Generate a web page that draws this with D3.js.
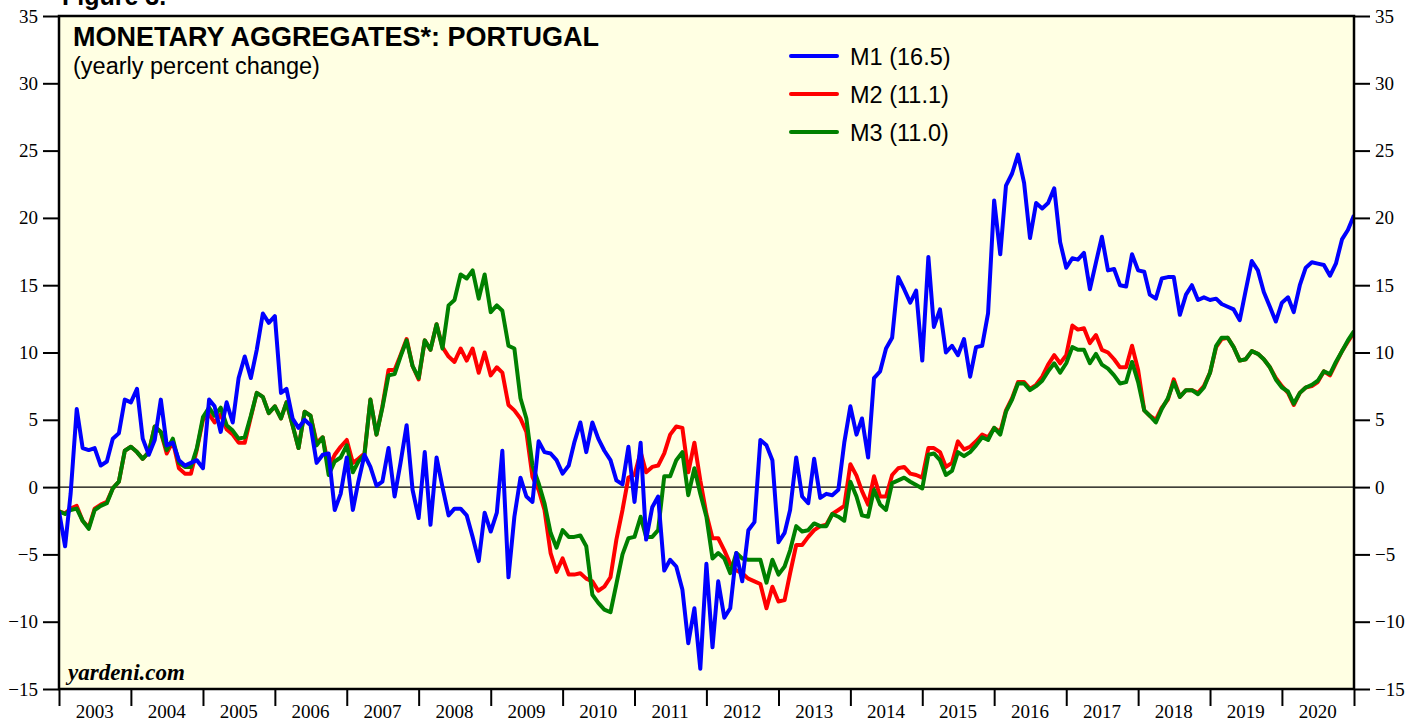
<!DOCTYPE html>
<html>
<head>
<meta charset="utf-8">
<script src="https://cdn.jsdelivr.net/npm/d3@7"></script>
<style>
  body { margin: 0; background: #fff; }
  .ax text { font-family: "Liberation Serif", "Times New Roman", serif; font-size: 19px; fill: #000; }
  .ax path { display: none; }
  .ax line { stroke: #000; stroke-width: 2; }
</style>
</head>
<body>
<div id="chart"></div>
<script>
// monthly yearly % change, Jan 2003 .. Jan 2021
var m1 = [
  -1.8, -4.4, -0.5, 5.8, 2.9, 2.75, 2.9, 1.6, 1.9, 3.6, 4.0, 6.5,
  6.3, 7.3, 3.6, 2.4, 3.5, 6.5, 3.1, 3.3, 2.0, 1.6, 1.8, 2.0,
  1.4, 6.5, 6.0, 4.1, 6.3, 4.8, 8.1, 9.7, 8.1, 10.2, 12.9, 12.2,
  12.7, 7.0, 7.3, 5.1, 4.4, 5.0, 4.6, 1.8, 2.4, 2.5, -1.7, -0.5,
  2.2, -1.7, 0.4, 2.4, 1.5, 0.1, 0.4, 2.9, -0.7, 1.8, 4.6, -0.2,
  -2.3, 2.6, -2.8, 2.2, 0.0, -2.1, -1.6, -1.6, -2.1, -3.7, -5.5, -1.9,
  -3.3, -1.9, 2.7, -6.7, -2.2, 0.7, -0.7, -1.1, 3.4, 2.6, 2.5, 2.0,
  1.0, 1.6, 3.3, 4.8, 2.6, 4.8, 3.6, 2.7, 2.0, 0.5, 0.2, 3.0,
  -1.1, 3.3, -3.9, -1.5, -0.7, -6.2, -5.4, -5.9, -7.6, -11.6, -9.0, -13.5,
  -5.7, -11.9, -7.0, -9.7, -9.0, -4.9, -7.0, -3.2, -2.6, 3.5, 3.1, 2.0,
  -4.1, -3.4, -1.7, 2.2, -0.7, -1.2, 2.1, -0.8, -0.5, -0.6, -0.2, 3.3,
  6.0, 3.9, 5.1, 2.2, 8.1, 8.6, 10.3, 11.1, 15.6, 14.7, 13.7, 14.6,
  9.4, 17.1, 11.9, 13.2, 10.0, 10.5, 9.8, 11.0, 8.2, 10.4, 10.5, 12.9,
  21.3, 17.3, 22.4, 23.3, 24.7, 22.6, 18.5, 21.1, 20.7, 21.1, 22.2, 18.2,
  16.3, 17.0, 16.9, 17.4, 14.7, 16.7, 18.6, 16.1, 16.2, 15.0, 14.9, 17.3,
  16.1, 16.0, 14.3, 14.0, 15.5, 15.6, 15.6, 12.8, 14.3, 15.0, 13.9, 14.1,
  13.9, 14.0, 13.6, 13.4, 13.2, 12.4, 14.6, 16.8, 16.1, 14.5, 13.4, 12.3,
  13.7, 14.1, 13.0, 15.0, 16.3, 16.7, 16.6, 16.5, 15.7, 16.6, 18.4, 19.1,
  20.2
];
var m2 = [
  -1.8, -1.95, -1.6, -1.4, -2.5, -3.0, -1.6, -1.3, -1.1, -0.1, 0.4, 2.7,
  3.0, 2.6, 2.1, 2.6, 4.5, 4.1, 2.5, 3.4, 1.4, 1.0, 1.0, 2.8,
  5.0, 5.4, 4.8, 5.4, 4.3, 3.9, 3.3, 3.3, 5.2, 7.0, 6.7, 5.5,
  6.0, 5.1, 6.3, 4.6, 2.9, 5.6, 5.3, 3.3, 3.7, 1.5, 2.4, 3.0,
  3.5, 1.8, 2.1, 2.5, 6.5, 3.9, 6.0, 8.7, 8.7, 9.8, 11.0, 9.0,
  8.0, 10.9, 10.2, 12.1, 10.4, 9.7, 9.3, 10.3, 9.4, 10.3, 8.5, 10.0,
  8.3, 8.9, 8.5, 6.1, 5.7, 5.1, 4.1, 0.75, -0.2, -1.7, -4.9, -6.3,
  -5.3, -6.5, -6.5, -6.4, -6.8, -7.0, -7.7, -7.4, -6.7, -3.9, -1.7, 0.7,
  0.9, 2.6, 1.1, 1.5, 1.6, 2.5, 3.9, 4.5, 4.4, 1.1, 3.3, 0.5,
  -2.0, -3.8, -3.8, -4.7, -5.7, -6.2, -6.4, -6.8, -7.0, -7.2, -9.0, -7.4,
  -8.5, -8.4, -6.4, -4.3, -4.3, -3.7, -3.2, -2.9, -2.8, -2.0, -1.7, -1.4,
  1.7, 0.85, -0.3, -1.3, 0.8, -0.7, -0.7, 0.9, 1.4, 1.5, 1.0, 0.9,
  0.7, 2.9, 2.9, 2.6, 1.5, 1.8, 3.4, 2.8, 3.0, 3.4, 3.9, 3.7,
  4.4, 4.1, 5.7, 6.6, 7.8, 7.8, 7.3, 7.6, 8.2, 9.1, 9.8, 9.2,
  9.8, 12.0, 11.7, 11.8, 10.7, 11.3, 10.2, 10.0, 9.5, 8.9, 8.9, 10.5,
  8.7, 5.7, 5.3, 5.0, 5.9, 6.5, 8.0, 6.7, 7.2, 7.2, 7.0, 7.5,
  8.5, 10.4, 11.0, 11.1, 10.4, 9.4, 9.5, 10.1, 9.9, 9.5, 8.9, 8.1,
  7.5, 7.0, 6.1, 7.0, 7.4, 7.5, 7.8, 8.6, 8.3, 9.2, 10.1, 10.8,
  11.5
];
var m3 = [
  -1.8, -2.0, -1.7, -1.6, -2.5, -3.1, -1.7, -1.4, -1.2, -0.1, 0.4, 2.7,
  3.0, 2.6, 2.1, 2.6, 4.5, 4.1, 2.75, 3.6, 1.8, 1.5, 1.5, 2.9,
  5.2, 5.9, 5.3, 5.9, 4.6, 4.2, 3.6, 3.7, 5.3, 7.0, 6.7, 5.5,
  6.0, 5.1, 6.3, 4.6, 2.9, 5.6, 5.3, 3.1, 3.7, 0.9, 1.9, 2.2,
  3.1, 1.1, 1.9, 2.4, 6.5, 3.9, 5.9, 8.3, 8.4, 9.7, 10.9, 9.0,
  8.1, 10.9, 10.2, 12.1, 10.3, 13.5, 13.9, 15.8, 15.5, 16.1, 14.0, 15.8,
  13.0, 13.5, 13.1, 10.5, 10.3, 6.6, 5.1, 1.6, 0.3, -1.2, -3.4, -4.5,
  -3.2, -3.7, -3.7, -3.6, -4.4, -8.0, -8.6, -9.1, -9.3, -7.2, -5.0, -3.8,
  -3.7, -2.2, -3.7, -3.7, -3.2, 0.8, 0.8, 2.0, 2.6, -0.6, 1.4, -0.5,
  -2.2, -5.3, -4.9, -5.3, -6.4, -4.9, -5.3, -5.4, -5.4, -5.4, -7.1, -5.4,
  -6.5, -5.9, -4.7, -2.9, -3.3, -3.2, -2.7, -2.9, -2.9, -2.0, -2.2, -2.5,
  0.4, -0.7, -2.1, -2.2, -0.2, -1.3, -1.7, 0.3, 0.5, 0.7, 0.4, 0.15,
  -0.1, 2.4, 2.5, 2.0, 0.9, 1.2, 2.6, 2.3, 2.6, 3.1, 3.7, 3.5,
  4.4, 3.9, 5.6, 6.5, 7.7, 7.7, 7.2, 7.5, 7.9, 8.6, 9.2, 8.5,
  9.2, 10.4, 10.2, 10.2, 9.2, 9.9, 9.1, 8.8, 8.3, 7.7, 7.8, 9.3,
  7.8, 5.7, 5.3, 4.8, 5.8, 6.6, 7.8, 6.7, 7.2, 7.2, 6.9, 7.4,
  8.5, 10.5, 11.1, 11.1, 10.4, 9.4, 9.5, 10.1, 9.9, 9.5, 8.9, 8.0,
  7.4, 7.1, 6.2, 7.0, 7.4, 7.6, 7.9, 8.6, 8.4, 9.3, 10.1, 10.9,
  11.6
];
var years = d3.range(2003, 2021);
var yTicks = d3.range(-15, 36, 5);
var seriesNames = ["M1 (16.5)", "M2 (11.1)", "M3 (11.0)"];
var seriesColors = ["#0000ff", "#ff0000", "#008000"];

var width = 1419, height = 719;
var margin = {top: 16, left: 59, right: 65, bottom: 30};

var svg = d3.select("#chart").append("svg")
  .attr("width", width)
  .attr("height", height);

var x = d3.scaleTime()
  .domain([new Date(2003, 0, 1), new Date(2021, 0, 1)])
  .range([margin.left, width - margin.right]);
var y = d3.scaleLinear()
  .domain([-15, 35])
  .range([height - margin.bottom, margin.top]);

// figure caption, cut off by the top edge as in the source
svg.append("text")
  .attr("x", 62).attr("y", 5)
  .style("font-family", "Liberation Sans, Arial, sans-serif")
  .style("font-weight", "bold").style("font-size", "25px")
  .text("Figure 3.");

svg.append("rect")
  .attr("x", x.range()[0]).attr("y", y.range()[1])
  .attr("width", x.range()[1] - x.range()[0])
  .attr("height", y.range()[0] - y.range()[1])
  .attr("fill", "#ffffe3");

// zero line
svg.append("line")
  .attr("x1", x.range()[0]).attr("x2", x.range()[1])
  .attr("y1", y(0)).attr("y2", y(0))
  .attr("stroke", "#000").attr("stroke-width", 1.2);

var line = d3.line()
  .x(function(d, i) { return x(new Date(2003, i, 1)); })
  .y(function(d) { return y(d); });

svg.append("clipPath").attr("id", "clip").append("rect")
  .attr("x", x.range()[0]).attr("y", y.range()[1])
  .attr("width", x.range()[1] - x.range()[0])
  .attr("height", y.range()[0] - y.range()[1]);

var plot = svg.append("g").attr("clip-path", "url(#clip)");
[m2, m3, m1].forEach(function(s) {
  var k = [m1, m2, m3].indexOf(s);
  plot.append("path")
    .datum(s)
    .attr("fill", "none")
    .attr("stroke", seriesColors[k])
    .attr("stroke-width", 4)
    .attr("stroke-linejoin", "round")
    .attr("d", line);
});

// frame
svg.append("rect")
  .attr("x", x.range()[0]).attr("y", y.range()[1])
  .attr("width", x.range()[1] - x.range()[0])
  .attr("height", y.range()[0] - y.range()[1])
  .attr("fill", "none").attr("stroke", "#000").attr("stroke-width", 2.5);

// axes
svg.append("g").attr("class", "ax")
  .attr("transform", "translate(" + x.range()[0] + ",0)")
  .call(d3.axisLeft(y).tickValues(yTicks).tickSize(16).tickPadding(5));
svg.append("g").attr("class", "ax")
  .attr("transform", "translate(" + x.range()[1] + ",0)")
  .call(d3.axisRight(y).tickValues(yTicks).tickSize(16).tickPadding(5));

svg.append("g").attr("class", "ax")
  .attr("transform", "translate(0," + y.range()[0] + ")")
  .call(d3.axisBottom(x).ticks(d3.timeYear.every(1)).tickSize(17).tickFormat(""));

svg.append("g").attr("class", "ax")
  .selectAll("text")
  .data(years)
  .enter().append("text")
  .attr("x", function(d) { return x(new Date(d, 6, 1)); })
  .attr("y", y.range()[0] + 29)
  .attr("text-anchor", "middle")
  .text(function(d) { return d; });

// titles
svg.append("text")
  .attr("x", 73).attr("y", 46)
  .style("font-family", "Liberation Sans, Arial, sans-serif")
  .style("font-weight", "bold").style("font-size", "27px")
  .text("MONETARY AGGREGATES*: PORTUGAL");
svg.append("text")
  .attr("x", 73).attr("y", 74)
  .style("font-family", "Liberation Sans, Arial, sans-serif")
  .style("font-size", "23.5px")
  .text("(yearly percent change)");

svg.append("text")
  .attr("x", 68).attr("y", 680)
  .style("font-family", "Liberation Serif, Times New Roman, serif")
  .style("font-weight", "bold").style("font-style", "italic").style("font-size", "23px")
  .text("yardeni.com");

// legend
var lg = svg.append("g").selectAll("g")
  .data(seriesNames)
  .enter().append("g")
  .attr("transform", function(d, i) { return "translate(791," + (56 + i * 38) + ")"; });
lg.append("line")
  .attr("x1", 0).attr("x2", 46)
  .attr("stroke", function(d, i) { return seriesColors[i]; })
  .attr("stroke-width", 4).attr("stroke-linecap", "round");
lg.append("text")
  .attr("x", 59).attr("y", 8.5)
  .style("font-family", "Liberation Sans, Arial, sans-serif")
  .style("font-size", "23.5px")
  .text(function(d) { return d; });
</script>
</body>
</html>
